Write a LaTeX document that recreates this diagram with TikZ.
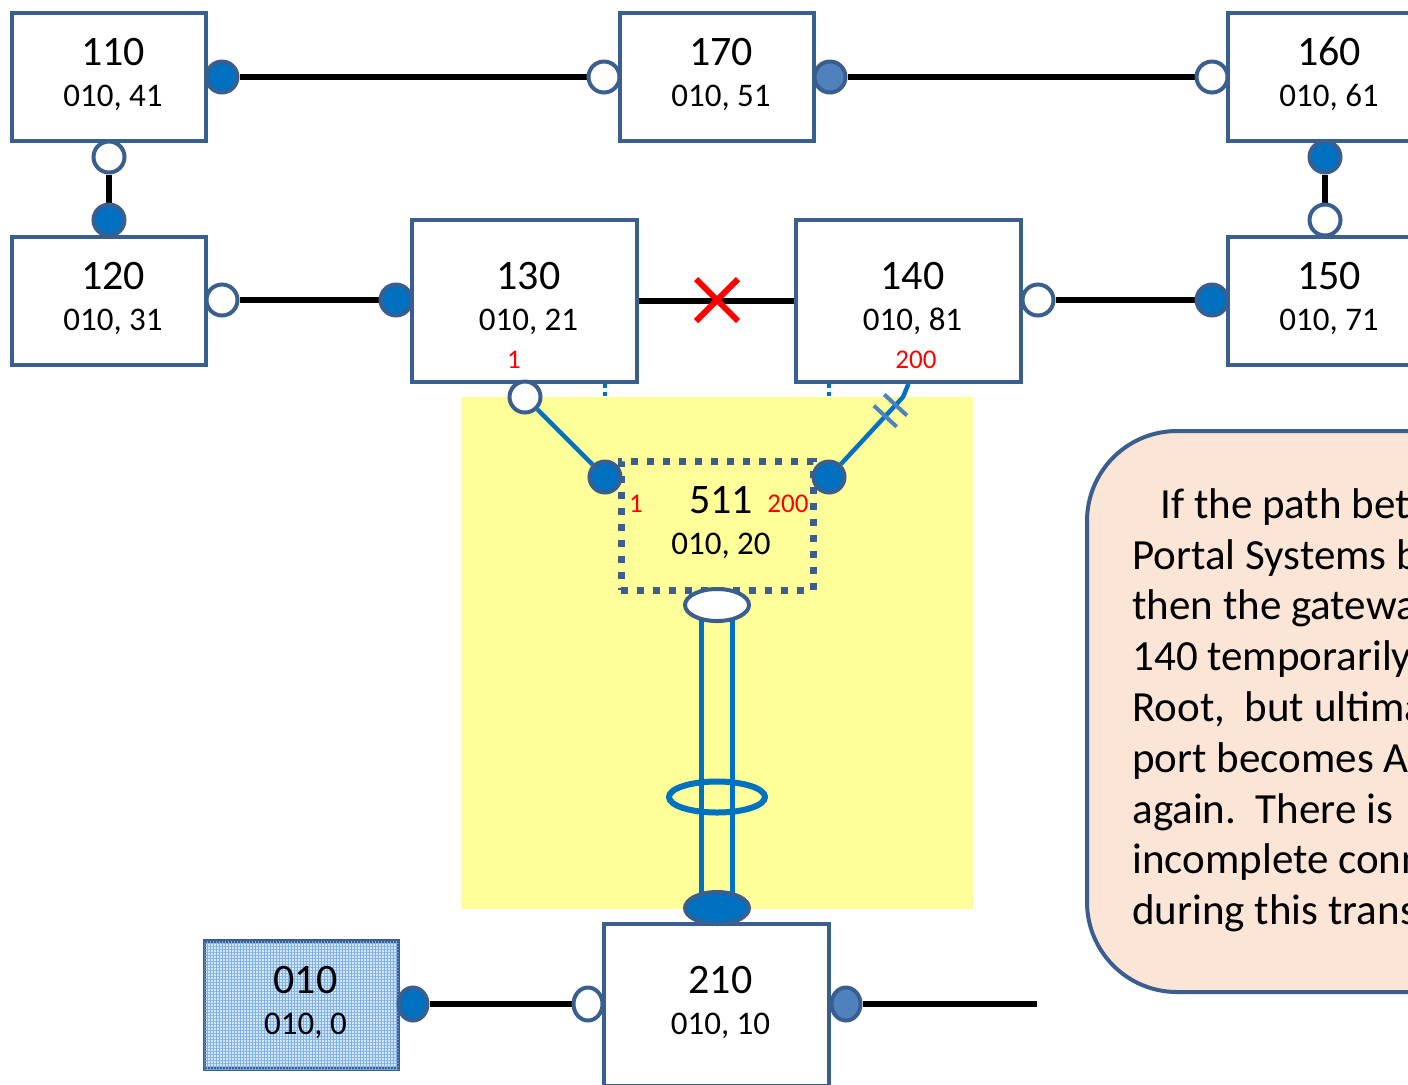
\documentclass[tikz,border=0pt]{standalone}
\usepackage{fontspec}
\setmainfont{Carlito}
\usetikzlibrary{shapes.geometric,shapes.misc,calc,patterns.meta}
\definecolor{boxline}{HTML}{3A5F8F}
\definecolor{portblue}{HTML}{0070C0}
\definecolor{portpale}{HTML}{4F81BD}
\definecolor{lagyellow}{HTML}{FFFF99}
\definecolor{notefill}{HTML}{FBE5D6}
\definecolor{gridfill}{HTML}{D3E5F8}
\definecolor{gridline}{HTML}{7FB0E6}
\pgfdeclarelayer{back}
\pgfdeclarelayer{links}
\pgfsetlayers{back,links,main}
\newcommand{\sysid}[2]{\hspace*{4pt}{\fontsize{21}{21}\selectfont #1}\\\hspace*{4pt}#2\rule[-5pt]{0pt}{0pt}}
\tikzset{
  sysbox/.style={draw=boxline, line width=1.8pt, fill=white, align=center,
    font=\fontsize{16.5}{20.5}\selectfont, minimum width=97pt, minimum height=64pt, inner sep=0pt},
  bigbox/.style={sysbox, minimum width=112.5pt, minimum height=81pt},
  gwbox/.style={draw=boxline, line width=3.5pt, dash pattern=on 3.5pt off 4.5pt, align=center,
    font=\fontsize{16.5}{20.5}\selectfont, minimum width=96pt, minimum height=64.5pt, inner sep=0pt},
  port/.style={circle, draw=boxline, line width=2pt, minimum size=15.5pt, inner sep=0pt},
  portfull/.style={port, fill=portblue},
  portopen/.style={port, fill=white},
  portlite/.style={port, fill=portpale},
  vport/.style={ellipse, minimum width=14.5pt, minimum height=16.5pt},
  hport/.style={ellipse, minimum width=32pt, minimum height=16pt},
  portnum/.style={text=red, font=\fontsize{13.5}{13.5}\selectfont, inner sep=0pt},
  link/.style={line width=2.6pt, black},
  lanlink/.style={line width=2.2pt, portblue},
  lagline/.style={line width=2.5pt, portblue},
  ghost/.style={line width=2pt, portblue, dash pattern=on 2pt off 2pt},
  cut/.style={line width=2pt, portpale},
  notebox/.style={draw=boxline, line width=2pt, fill=notefill, rounded corners=45pt,
    minimum width=320pt, minimum height=280.5pt, anchor=north west},
  notetext/.style={align=left, inner sep=0pt, anchor=north west, font=\fontsize{21.5}{25.4}\selectfont}
}
\begin{document}
\begin{tikzpicture}[x=0.5pt,y=-0.5pt]
  \useasboundingbox (0,0) rectangle (1408,1084);
  % portal systems
  \node[sysbox] (b110) at (109,77) {\sysid{110}{010, 41}};
  \node[sysbox] (b170) at (717,77) {\sysid{170}{010, 51}};
  \node[sysbox] (b160) at (1325,77) {\sysid{160}{010, 61}};
  \node[sysbox] (b120) at (109,301) {\sysid{120}{010, 31}};
  \node[bigbox] (b130) at (524.5,301) {\sysid{130}{010, 21}};
  \node[bigbox] (b140) at (908.5,301) {\sysid{140}{010, 81}};
  \node[sysbox] (b150) at (1325,301) {\sysid{150}{010, 71}};
  \node[bigbox, minimum height=81pt] (b210) at (716.5,1005) {\sysid{210}{010, 10}};
  \node[sysbox, fill=gridfill, postaction={pattern={Hatch[distance=1.5pt,line width=.3pt]}, pattern color=gridline}]
    (b010) at (301.5,1005) {\sysid{010}{010, 0}};
  \node[gwbox] (b511) at (717,525.5) {\sysid{511}{010, 20}};
  \node[portnum] (n130) at (514,360) {1};
  \node[portnum] (n140) at (916,360) {200};
  \node[portnum] (n511a) at (636,504) {1};
  \node[portnum] (n511b) at (788,504) {200};
  % ports
  \foreach \p/\x/\y in {p110r/222/77, p120t/109/220, p160b/1325/157, p130l/396/300,
      p150l/1212/300, p511l/605/477, p511r/829/477}
    \node[portfull] (\p) at (\x,\y) {};
  \foreach \p/\x/\y in {p170l/604/77, p160l/1212/77, p110b/109/157, p150t/1325/220,
      p120r/222/300, p140r/1038/300, p130b/525/397}
    \node[portopen] (\p) at (\x,\y) {};
  \node[portlite] (p170r) at (830,77) {};
  \node[portfull, vport] (p010r) at (413,1004) {};
  \node[portopen, vport] (p210l) at (588,1004) {};
  \node[portlite, vport] (p210r) at (846,1004) {};
  \node[portopen, hport] (p511b) at (717,605) {};
  \node[portfull, hport] (p210t) at (717,908) {};
  \node[ellipse, draw=portblue, line width=3pt, minimum width=48pt, minimum height=15.5pt] (ring) at (717,797) {};
  \node[cross out, draw=red, line width=3pt, minimum size=18pt, inner sep=0pt] (brk) at (717,300) {};
  \coordinate (k) at (903,397);
  \coordinate (e210) at (1037,1004);
  \begin{pgfonlayer}{back}
    \draw[ghost] (b130.south -| p511l) -- (p511l);
    \draw[ghost] (b140.south -| p511r) -- (p511r);
    \node[fill=lagyellow, minimum width=256pt, minimum height=256pt, anchor=north west] (area) at (461,397) {};
  \end{pgfonlayer}
  \begin{pgfonlayer}{links}
    \draw[link] (p110r) -- (p170l);
    \draw[link] (p170r) -- (p160l);
    \draw[link] (p110b) -- (p120t);
    \draw[link] (p160b) -- (p150t);
    \draw[link] (p120r) -- (p130l);
    \draw[link] (b130) -- (b140);
    \draw[link] (p140r) -- (p150l);
    \draw[link] (p010r) -- (p210l);
    \draw[link] (p210r) -- (e210);
    \draw[lanlink] (p130b) -- (p511l);
    \draw[lanlink] (p511r) -- (k) -- (b140.south);
    \draw[lagline] ([xshift=-7.75pt]p511b.center) -- ([xshift=-7.75pt]p210t.center);
    \draw[lagline] ([xshift=7.75pt]p511b.center) -- ([xshift=7.75pt]p210t.center);
  \end{pgfonlayer}
  \path (p511r.center) -- (k) coordinate[pos=0.76] (t1) coordinate[pos=0.9] (t2);
  \foreach \t in {t1,t2}
    \draw[cut] ($(\t)!7.75pt!90:(k)$) -- ($(\t)!7.75pt!-90:(k)$);
  % explanation
  \node[notebox] (note) at (1085,429) {};
  \node[notetext] (msg) at (1132,488) {\hspace*{14pt}If the path bet\\Portal Systems b\\then the gatewa\\140 temporarily\\Root,\ \ but ultima\\port becomes Al\\again.\ \ There is\\incomplete conn\\during this trans};
\end{tikzpicture}
\end{document}
